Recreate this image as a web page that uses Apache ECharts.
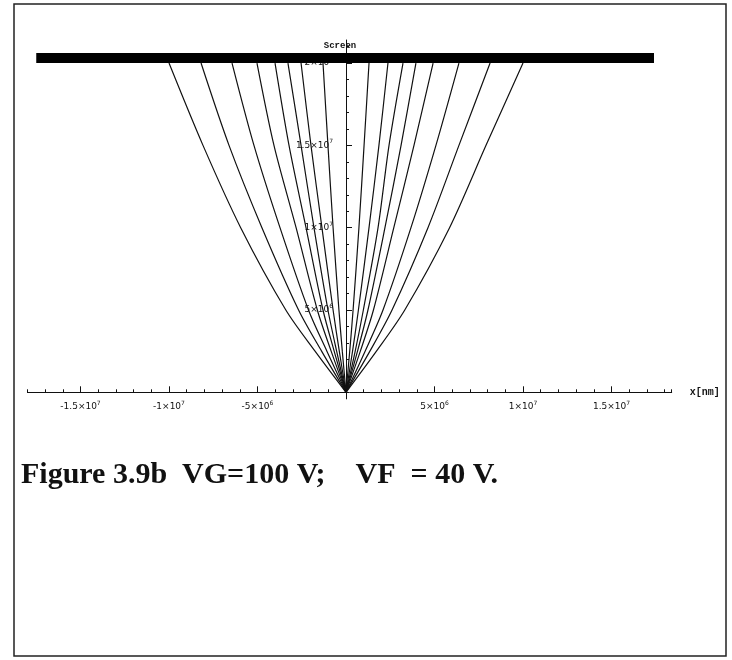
<!DOCTYPE html>
<html>
<head>
<meta charset="utf-8">
<script src="https://cdn.jsdelivr.net/npm/echarts@6/dist/echarts.min.js"></script>
<style>
  html, body { margin: 0; padding: 0; background: #fff; }
  #main { width: 732px; height: 660px; }
</style>
</head>
<body>
<div id="main"></div>
<script>
var yLevels = [0, 2.5e6, 5e6, 1e7, 1.5e7, 2e7];

// x (nm) of each trajectory at those heights, left fan then right fan
var leftTrajX = [
  [0, -1.75e6, -3.40e6, -5.95e6, -8.08e6, -1.00e7],
  [0, -1.38e6, -2.68e6, -4.75e6, -6.61e6, -8.19e6],
  [0, -1.08e6, -2.12e6, -3.73e6, -5.20e6, -6.44e6],
  [0, -0.84e6, -1.62e6, -2.82e6, -4.07e6, -5.03e6],
  [0, -0.67e6, -1.30e6, -2.26e6, -3.22e6, -4.01e6],
  [0, -0.53e6, -1.02e6, -1.81e6, -2.54e6, -3.28e6],
  [0, -0.38e6, -0.73e6, -1.36e6, -1.98e6, -2.54e6],
  [0, -0.21e6, -0.40e6, -0.73e6, -1.02e6, -1.30e6]
];
var rightTrajX = [
  [0, 0.21e6, 0.40e6, 0.73e6, 1.02e6, 1.30e6],
  [0, 0.37e6, 0.70e6, 1.30e6, 1.86e6, 2.37e6],
  [0, 0.52e6, 0.98e6, 1.81e6, 2.43e6, 3.22e6],
  [0, 0.65e6, 1.24e6, 2.20e6, 3.11e6, 3.95e6],
  [0, 0.81e6, 1.55e6, 2.70e6, 3.84e6, 4.92e6],
  [0, 1.08e6, 2.09e6, 3.67e6, 5.08e6, 6.38e6],
  [0, 1.35e6, 2.60e6, 4.63e6, 6.38e6, 8.14e6],
  [0, 1.72e6, 3.32e6, 5.85e6, 7.91e6, 1.00e7]
];

// the screen bar
var screenX = [-1.75e7, 1.74e7];
var screenY = 2.03e7;

// tick labels
var xMajorTicks = [-1.5e7, -1e7, -5e6, 5e6, 1e7, 1.5e7];
var xTickText = ['-1.5\u00d710', '-1\u00d710', '-5\u00d710', '5\u00d710', '1\u00d710', '1.5\u00d710'];
var xTickExp = ['7', '7', '6', '6', '7', '7'];
var yMajorTicks = [5e6, 1e7, 1.5e7, 2e7];
var yTickText = ['5\u00d710', '1\u00d710', '1.5\u00d710', '2\u00d710'];
var yTickExp = ['6', '7', '7', '7'];

var xMin = -1.8e7, xMax = 1.84e7, yMin = -0.4e6, yMax = 2.14e7;

// minor ticks every 1e6 up the vertical axis
var yMinorTicks = [];
for (var t = 0; t <= yMax; t += 1e6) yMinorTicks.push(t);

var labelRich = {
  m: { fontFamily: 'DejaVu Sans', fontSize: 9, color: '#111' },
  e: { fontFamily: 'DejaVu Sans', fontSize: 6, color: '#111', padding: [0, 0, 7, 0] }
};

function fmt(ticks, text, exp) {
  return function (v) {
    for (var i = 0; i < ticks.length; i++) {
      if (Math.abs(ticks[i] - v) < 1) return '{m|' + text[i] + '}{e|' + exp[i] + '}';
    }
    return '';
  };
}

var series = [];
leftTrajX.concat(rightTrajX).forEach(function (xs) {
  series.push({
    type: 'line',
    xAxisIndex: 0, yAxisIndex: 0,
    smooth: 0.3,
    symbol: 'none',
    lineStyle: { color: '#111', width: 1.2 },
    data: xs.map(function (x, i) { return [x, yLevels[i]]; }),
    z: 3
  });
});
series.push({
  type: 'line',
  xAxisIndex: 0, yAxisIndex: 0,
  symbol: 'none',
  lineStyle: { color: '#000', width: 10, cap: 'butt' },
  data: [[screenX[0], screenY], [screenX[1], screenY]],
  z: 4
});

var hidden = { show: false };
var chart = echarts.init(document.getElementById('main'), null, { renderer: 'canvas' });
chart.setOption({
  animation: false,
  backgroundColor: '#fff',
  grid: [
    // data area
    { left: 27.4, top: 40, width: 644.3, height: 358.9, outerBoundsMode: 'none', containLabel: false },
    // horizontal axis sits at y = 0
    { left: 27.4, top: 40, width: 644.3, height: 352.3, outerBoundsMode: 'none', containLabel: false },
    // vertical axis sits at x = 0
    { left: 346, top: 40, width: 100, height: 358.9, outerBoundsMode: 'none', containLabel: false }
  ],
  xAxis: [
    { type: 'value', gridIndex: 0, min: xMin, max: xMax, show: false },
    {
      type: 'value', gridIndex: 1, min: xMin, max: xMax, position: 'bottom',
      axisLine: { onZero: false, lineStyle: { color: '#111', width: 1 } },
      axisTick: { show: true, inside: true, length: 6, customValues: xMajorTicks, lineStyle: { color: '#111' } },
      axisLabel: { margin: 8, customValues: xMajorTicks, formatter: fmt(xMajorTicks, xTickText, xTickExp), rich: labelRich },
      splitLine: hidden,
      name: 'x[nm]', nameLocation: 'end', nameGap: 18,
      nameTextStyle: { fontFamily: 'Liberation Mono', fontWeight: 'bold', fontSize: 10, color: '#111', verticalAlign: 'middle' }
    },
    {
      type: 'value', gridIndex: 1, min: xMin, max: xMax, interval: 1e6, position: 'bottom',
      axisLine: { show: false, onZero: false },
      axisTick: { show: true, inside: true, length: 3, lineStyle: { color: '#111' } },
      axisLabel: hidden, splitLine: hidden
    },
    { type: 'value', gridIndex: 2, min: 0, max: 1, show: false }
  ],
  yAxis: [
    { type: 'value', gridIndex: 0, min: yMin, max: yMax, show: false },
    { type: 'value', gridIndex: 1, min: 0, max: 1, show: false },
    {
      type: 'value', gridIndex: 2, min: yMin, max: yMax, position: 'left',
      axisLine: { onZero: false, lineStyle: { color: '#111', width: 1 } },
      axisTick: { show: true, inside: true, length: 6, customValues: yMajorTicks, lineStyle: { color: '#111' } },
      axisLabel: { margin: 13, customValues: yMajorTicks, formatter: fmt(yMajorTicks, yTickText, yTickExp), rich: labelRich },
      splitLine: hidden
    },
    {
      type: 'value', gridIndex: 2, min: yMin, max: yMax, position: 'left',
      axisLine: { show: false, onZero: false },
      axisTick: { show: true, inside: true, length: 3, customValues: yMinorTicks, lineStyle: { color: '#111' } },
      axisLabel: hidden, splitLine: hidden
    }
  ],
  series: series,
  graphic: [
    { type: 'rect', shape: { x: 14, y: 4, width: 712, height: 652 }, style: { fill: 'none', stroke: '#222', lineWidth: 1.5 } },
    { type: 'text', style: { x: 340, y: 46, text: 'Screen', textAlign: 'center', verticalAlign: 'middle',
        font: 'bold 9px "Liberation Mono"', fill: '#111' }, z: 5 },
    { type: 'text', style: { x: 21, y: 475, text: 'Figure 3.9b  VG=100 V;    VF  = 40 V.', textAlign: 'left', verticalAlign: 'middle',
        font: 'bold 30px "Liberation Serif"', fill: '#111' } }
  ]
});
</script>
</body>
</html>
